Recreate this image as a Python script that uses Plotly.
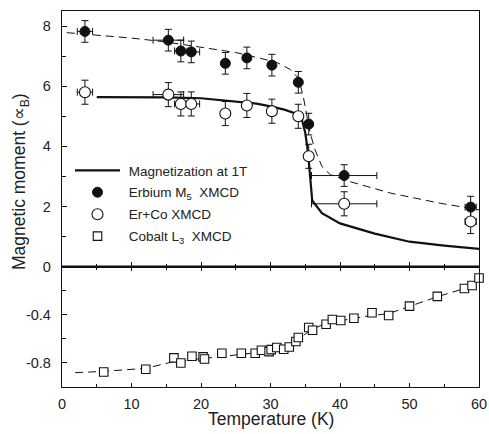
import plotly.graph_objects as go
from plotly.subplots import make_subplots

# ---------------- data ----------------
# Erbium M5 XMCD (filled circles)
er_T = [3.3, 15.3, 17.1, 18.6, 23.5, 26.6, 30.2, 34.0, 35.5, 40.6, 58.8]
er_m = [7.82, 7.53, 7.17, 7.14, 6.76, 6.94, 6.70, 6.13, 4.74, 3.03, 1.98]
er_dm = [0.36, 0.36, 0.36, 0.36, 0.36, 0.36, 0.36, 0.36, 0.36, 0.36, 0.36]
er_dT = [1.1, 2.2, 0.9, 1.2, 0, 0, 0, 0, 0, 4.7, 0.8]

# Er+Co XMCD (open circles)
erco_T = [3.3, 15.3, 17.1, 18.6, 23.5, 26.6, 30.2, 34.0, 35.5, 40.6, 58.8]
erco_m = [5.80, 5.72, 5.41, 5.41, 5.09, 5.36, 5.17, 5.00, 3.67, 2.09, 1.50]
erco_dm = [0.40, 0.40, 0.40, 0.40, 0.40, 0.40, 0.40, 0.40, 0.40, 0.40, 0.40]
erco_dT = [1.1, 2.2, 0.9, 1.2, 0, 0, 0, 0, 0, 4.7, 0.8]

# Cobalt L3 XMCD (open squares, lower panel)
co_T = [6.0, 12.05, 16.1, 17.1, 18.7, 20.3, 20.5, 23.0, 25.8, 27.8, 28.7, 29.8,
        30.1, 30.9, 31.9, 32.7, 33.65, 34.0, 35.5, 36.05, 38.0, 38.9, 40.1,
        42.0, 44.6, 47.0, 50.0, 54.0, 57.9, 59.0, 60.0]
co_m = [-0.875, -0.853, -0.758, -0.80, -0.744, -0.75, -0.767, -0.719, -0.719,
        -0.719, -0.694, -0.706, -0.689, -0.672, -0.686, -0.667, -0.622, -0.589,
        -0.506, -0.528, -0.478, -0.439, -0.447, -0.428, -0.383, -0.406, -0.328,
        -0.247, -0.181, -0.156, -0.094]

# Magnetization at 1T (solid line)
mag_T = [5, 10, 15, 20, 25, 28, 30, 32, 33.5, 34.5, 35.0, 35.4, 35.7, 36.0,
         37.4, 40, 45, 50, 55, 60]
mag_m = [5.64, 5.64, 5.63, 5.60, 5.50, 5.42, 5.33, 5.22, 5.10, 4.90, 4.45,
         3.80, 3.00, 2.20, 1.78, 1.44, 1.10, 0.83, 0.70, 0.59]

# dashed guide curve through Er data
fit_er_T = [0.7, 5, 10, 15, 20, 25, 28.5, 31, 32.8, 34.0, 34.7, 35.2, 35.7,
            36.4, 37.4, 38.6, 41.4, 47.2, 54.4, 60]
fit_er_m = [7.78, 7.70, 7.60, 7.47, 7.30, 7.12, 6.93, 6.78, 6.56, 6.28, 5.67,
            5.00, 4.45, 3.89, 3.33, 3.06, 2.83, 2.45, 2.11, 1.89]

# dashed guide curve through Co data
fit_co_T = [1.9, 6, 12, 16, 20, 25, 28, 30, 32, 34, 36, 38, 40, 44, 47, 50,
            54, 58, 60]
fit_co_m = [-0.881, -0.87, -0.845, -0.79, -0.765, -0.73, -0.715, -0.69,
            -0.67, -0.60, -0.52, -0.47, -0.45, -0.41, -0.39, -0.33, -0.25,
            -0.18, -0.11]

FONT = "Liberation Sans, Arial, sans-serif"
INK = "#111111"
NB = "\u00a0"

fig = make_subplots(rows=2, cols=1, vertical_spacing=0, row_heights=[0.68, 0.32])

# lines first
fig.add_trace(go.Scatter(x=fit_er_T, y=fit_er_m, mode="lines", showlegend=False,
                         line=dict(color=INK, width=1, dash="8px,5px"),
                         hoverinfo="skip"), row=1, col=1)
fig.add_trace(go.Scatter(x=mag_T, y=mag_m, mode="lines", name=NB + "Magnetization at 1T",
                         legendgroup="a",
                         line=dict(color=INK, width=2.2)), row=1, col=1)
fig.add_trace(go.Scatter(x=fit_co_T, y=fit_co_m, mode="lines", showlegend=False,
                         line=dict(color=INK, width=1, dash="8px,5px"),
                         hoverinfo="skip"), row=2, col=1)

err_common = dict(color=INK, thickness=1, width=3.5)
fig.add_trace(go.Scatter(x=er_T, y=er_m, mode="markers",
                         name=NB + "Erbium M<sub>5</sub>  XMCD",
                         legendgroup="b", cliponaxis=False,
                         marker=dict(symbol="circle", size=10, color=INK,
                                     line=dict(color=INK, width=1)),
                         error_y=dict(type="data", array=er_dm, **err_common),
                         error_x=dict(type="data", array=er_dT, **err_common)),
              row=1, col=1)
fig.add_trace(go.Scatter(x=erco_T, y=erco_m, mode="markers", name=NB + "Er+Co XMCD",
                         legendgroup="c", cliponaxis=False,
                         marker=dict(symbol="circle", size=11, color="white",
                                     line=dict(color=INK, width=1.1)),
                         error_y=dict(type="data", array=erco_dm, **err_common),
                         error_x=dict(type="data", array=erco_dT, **err_common)),
              row=1, col=1)
fig.add_trace(go.Scatter(x=co_T, y=co_m, mode="markers",
                         name=NB + "Cobalt L<sub>3</sub>  XMCD",
                         legendgroup="d", cliponaxis=False,
                         marker=dict(symbol="square", size=8.5, color="white",
                                     line=dict(color=INK, width=1.1))),
              row=2, col=1)

tickfont = dict(family=FONT, size=14.5, color="#222222")

fig.update_xaxes(row=1, col=1, range=[0, 60], dtick=10, tick0=0, automargin=False,
                 showticklabels=False, showline=True, linecolor=INK,
                 linewidth=1.3, mirror=True, ticks="inside", ticklen=5,
                 tickwidth=1, tickcolor=INK, showgrid=False, zeroline=False,
                 minor=dict(ticks="inside", dtick=5, tick0=0, ticklen=3,
                            tickcolor=INK, tickwidth=1, showgrid=False))
fig.update_xaxes(row=2, col=1, range=[0, 60], dtick=10, tick0=0, automargin=False,
                 showticklabels=True, showline=True, linecolor=INK,
                 linewidth=1.3, mirror="ticks", ticks="inside", ticklen=4,
                 tickwidth=1, tickcolor=INK, showgrid=False, zeroline=False,
                 tickfont=tickfont, ticklabelstandoff=3,
                 minor=dict(ticks="inside", dtick=5, tick0=0, ticklen=3,
                            tickcolor=INK, tickwidth=1, showgrid=False))
fig.update_yaxes(row=1, col=1, range=[0, 8.5], tickvals=[0, 2, 4, 6, 8],
                 ticktext=["0", "2", "4", "6", "8"], automargin=False,
                 showline=True, linecolor=INK, linewidth=1.3, mirror=True,
                 ticks="inside", ticklen=5, tickwidth=1, tickcolor=INK,
                 showgrid=False, zeroline=False, tickfont=tickfont,
                 ticklabelstandoff=7,
                 minor=dict(ticks="inside", dtick=1, tick0=0, ticklen=4,
                            tickcolor=INK, tickwidth=1, showgrid=False))
fig.update_yaxes(row=2, col=1, range=[-1.0, 0], tickvals=[-0.8, -0.4],
                 ticktext=["-0.8", "-0.4"], automargin=False,
                 showline=True, linecolor=INK, linewidth=1.3, mirror=True,
                 ticks="inside", ticklen=5, tickwidth=1, tickcolor=INK,
                 showgrid=False, zeroline=False, tickfont=tickfont,
                 ticklabelstandoff=7,
                 minor=dict(ticks="inside", dtick=0.2, tick0=0, ticklen=4,
                            tickcolor=INK, tickwidth=1, showgrid=False))

# thick zero line between panels
fig.add_shape(type="line", xref="x domain", x0=0, x1=1, yref="y", y0=0, y1=0,
              line=dict(color=INK, width=2.2), layer="above")

fig.add_annotation(text="Magnetic moment (\u221d<sub>B</sub>)", textangle=-90,
                   xref="paper", yref="paper", x=-0.1007, y=0.545,
                   xanchor="center", yanchor="middle", showarrow=False,
                   font=dict(family=FONT, size=17.5, color="#222222"))
fig.add_annotation(text="Temperature (K)", xref="paper", yref="paper",
                   x=0.501, y=-0.085, xanchor="center", yanchor="middle",
                   showarrow=False,
                   font=dict(family=FONT, size=17.5, color="#222222"))

fig.update_layout(
    width=489, height=434,
    margin=dict(l=62, r=10, t=11, b=47, autoexpand=False),
    paper_bgcolor="white", plot_bgcolor="white",
    font=dict(family=FONT, color="#222222"),
    showlegend=True,
    legend=dict(x=0.0192, y=0.617, xanchor="left", yanchor="top",
                bgcolor="rgba(0,0,0,0)", borderwidth=0,
                font=dict(family=FONT, size=13.5, color="#222222"),
                itemwidth=45, tracegroupgap=1.4, traceorder="grouped"),
)

fig.write_html("out.html",
               config={"displayModeBar": False},
               post_script="document.body.style.margin='0';"
                           "document.body.style.overflow='hidden';")
